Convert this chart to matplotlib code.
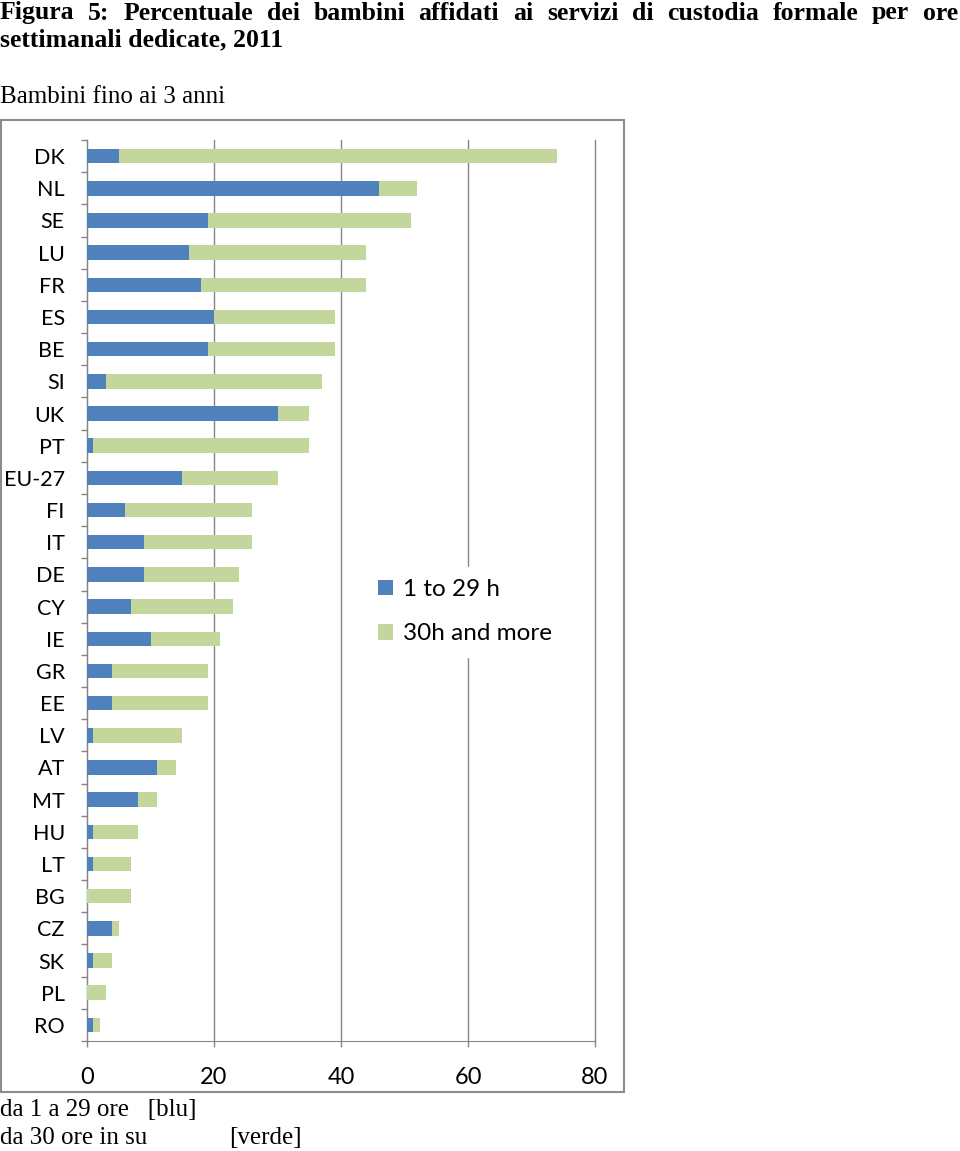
import numpy as np
import matplotlib.pyplot as plt
from matplotlib.patches import Rectangle

paesi = ["DK", "NL", "SE", "LU", "FR", "ES", "BE", "SI", "UK", "PT", "EU-27", "FI", "IT", "DE",
         "CY", "IE", "GR", "EE", "LV", "AT", "MT", "HU", "LT", "BG", "CZ", "SK", "PL", "RO"]
ore_1_29 = [5, 46, 19, 16, 18, 20, 19, 3, 30, 1, 15, 6, 9, 9, 7, 10, 4, 4, 1, 11, 8, 1, 1, 0, 4, 1, 0, 1]
ore_30_piu = [69, 6, 32, 28, 26, 19, 20, 34, 5, 34, 15, 20, 17, 15, 16, 11, 15, 15, 14, 3, 3, 7, 6, 7, 1, 3, 3, 1]
x_ticks = [0, 20, 40, 60, 80]
serie = ["1 to 29 h", "30h and more"]

blu = '#4F81BD'
verde = '#C3D69B'
grigio = '#868686'
serif = 'Liberation Serif'
sans = 'Lato'

W, H = 960, 1151
fig = plt.figure(figsize=(W / 100, H / 100), dpi=100)

def fx(px):
    return px / W

def fy(py):
    return 1 - py / H

# titolo, prima riga giustificata
riga1 = "Figura 5: Percentuale dei bambini affidati ai servizi di custodia formale per ore".split()
parole = [fig.text(0, fy(13), p, fontsize=18.5, fontweight='bold', family=serif, va='center') for p in riga1]
fig.canvas.draw()
r = fig.canvas.get_renderer()
larg = [t.get_window_extent(r).width for t in parole]
gap = (W - 2 - sum(larg)) / (len(parole) - 1)
x = 0
for t, w in zip(parole, larg):
    t.set_x(x / W)
    x += w + gap

fig.text(0, fy(40), "settimanali dedicate, 2011", fontsize=18.5, fontweight='bold', family=serif, va='center')
fig.text(0, fy(97), "Bambini fino ai 3 anni", fontsize=18, family=serif, va='center')
fig.text(0, fy(1110), "da 1 a 29 ore   [blu]", fontsize=18, family=serif, va='center')
fig.text(0, fy(1138), "da 30 ore in su", fontsize=18, family=serif, va='center')
fig.text(fx(229), fy(1138), "[verde]", fontsize=18, family=serif, va='center')

# cornice del grafico
fig.add_artist(Rectangle((fx(1), fy(1092)), fx(624) - fx(1), (1092 - 120) / H,
                         transform=fig.transFigure, fill=False, edgecolor='#8c8c8c', lw=1.5))

ax = fig.add_axes([fx(87), fy(1041), fx(595) - fx(87), (1041 - 140) / H])
y = np.arange(len(paesi))
ax.barh(y, ore_1_29, height=0.45, color=blu, label=serie[0], zorder=3)
ax.barh(y, ore_30_piu, left=ore_1_29, height=0.45, color=verde, label=serie[1], zorder=3)
ax.set_xlim(0, 80)
ax.set_ylim(len(paesi) - 0.5, -0.5)
ax.set_xticks(x_ticks)
ax.set_yticks(y, paesi)
ax.set_yticks(np.arange(-0.5, len(paesi)), minor=True)
ax.tick_params(axis='y', which='major', length=0, pad=16, labelsize=15.5)
ax.tick_params(axis='y', which='minor', length=4, color=grigio, width=1)
ax.tick_params(axis='x', length=4, color=grigio, width=1, pad=15, labelsize=17)
for lab in ax.get_xticklabels() + ax.get_yticklabels():
    lab.set_family(sans)
ax.grid(axis='x', color=grigio, lw=1, zorder=0)
for gl in ax.get_xgridlines():
    gl.set_clip_on(False)
ax.set_axisbelow(True)
for s in ['top', 'right']:
    ax.spines[s].set_visible(False)
for s in ['left', 'bottom']:
    ax.spines[s].set_color(grigio)

leg = ax.legend(loc='upper left', bbox_to_anchor=(fx(354), fy(555)), bbox_transform=fig.transFigure,
                frameon=True, framealpha=1, facecolor='white', edgecolor='white', fancybox=False,
                prop={'family': sans, 'size': 17.5}, handlelength=0.6, handleheight=0.6,
                handletextpad=0.4, labelspacing=0.95, borderpad=0.5)
leg.set_zorder(5)

fig.savefig('out.png', dpi=100)
